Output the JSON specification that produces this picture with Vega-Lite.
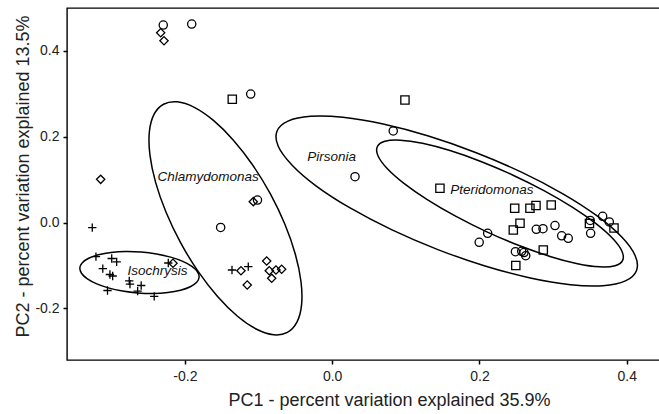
{
  "$schema": "https://vega.github.io/schema/vega-lite/v6.json",
  "autosize": {"type": "none"},
  "padding": {"left": 67, "top": 8, "right": 0, "bottom": 54},
  "width": 604,
  "height": 352,
  "config": {
    "font": "Liberation Sans",
    "view": {"stroke": "#000", "strokeWidth": 1.4},
    "axis": {"domain": false, "grid": false, "ticks": true, "tickColor": "#000", "tickWidth": 1.5, "tickSize": 4, "labelFontSize": 14, "labelColor": "#222", "titleFontSize": 18, "titleFontWeight": "normal", "titleColor": "#222", "labelFont": "Liberation Sans", "titleFont": "Liberation Sans"}
  },
  "datasets": {
    "points": [
      {"group": "C", "x": -0.2293, "y": 0.4603},
      {"group": "D", "x": -0.2328, "y": 0.4424},
      {"group": "D", "x": -0.2283, "y": 0.4238},
      {"group": "C", "x": -0.1907, "y": 0.4627},
      {"group": "S", "x": -0.1356, "y": 0.2873},
      {"group": "C", "x": -0.1106, "y": 0.2996},
      {"group": "D", "x": -0.3143, "y": 0.1009},
      {"group": "P", "x": -0.3257, "y": -0.0118},
      {"group": "C", "x": -0.1514, "y": -0.0113},
      {"group": "D", "x": -0.1071, "y": 0.0488},
      {"group": "C", "x": -0.1014, "y": 0.0527},
      {"group": "C", "x": 0.0310, "y": 0.1070},
      {"group": "C", "x": 0.0829, "y": 0.2135},
      {"group": "S", "x": 0.0988, "y": 0.2857},
      {"group": "P", "x": -0.3207, "y": -0.0794},
      {"group": "P", "x": -0.2993, "y": -0.0836},
      {"group": "P", "x": -0.2926, "y": -0.0912},
      {"group": "P", "x": -0.3114, "y": -0.1073},
      {"group": "P", "x": -0.3017, "y": -0.1208},
      {"group": "P", "x": -0.2980, "y": -0.1243},
      {"group": "P", "x": -0.2755, "y": -0.1355},
      {"group": "P", "x": -0.2745, "y": -0.1434},
      {"group": "P", "x": -0.2593, "y": -0.1465},
      {"group": "P", "x": -0.3050, "y": -0.1581},
      {"group": "P", "x": -0.2641, "y": -0.1597},
      {"group": "P", "x": -0.2416, "y": -0.1719},
      {"group": "P", "x": -0.2225, "y": -0.0940},
      {"group": "D", "x": -0.2161, "y": -0.0947},
      {"group": "P", "x": -0.1360, "y": -0.1103},
      {"group": "D", "x": -0.1238, "y": -0.1120},
      {"group": "P", "x": -0.1139, "y": -0.1027},
      {"group": "D", "x": -0.1153, "y": -0.1453},
      {"group": "D", "x": -0.0889, "y": -0.0894},
      {"group": "D", "x": -0.0854, "y": -0.1120},
      {"group": "D", "x": -0.0763, "y": -0.1103},
      {"group": "D", "x": -0.0686, "y": -0.1087},
      {"group": "D", "x": -0.0821, "y": -0.1297},
      {"group": "S", "x": 0.1463, "y": 0.0800},
      {"group": "S", "x": 0.2478, "y": 0.0334},
      {"group": "S", "x": 0.2685, "y": 0.0334},
      {"group": "S", "x": 0.2767, "y": 0.0399},
      {"group": "S", "x": 0.2974, "y": 0.0411},
      {"group": "S", "x": 0.2550, "y": -0.0016},
      {"group": "S", "x": 0.2459, "y": -0.0172},
      {"group": "C", "x": 0.2111, "y": -0.0249},
      {"group": "C", "x": 0.1996, "y": -0.0458},
      {"group": "C", "x": 0.2771, "y": -0.0155},
      {"group": "C", "x": 0.2862, "y": -0.0141},
      {"group": "C", "x": 0.3025, "y": -0.0067},
      {"group": "C", "x": 0.3116, "y": -0.0307},
      {"group": "C", "x": 0.3205, "y": -0.0365},
      {"group": "C", "x": 0.2488, "y": -0.0677},
      {"group": "C", "x": 0.2573, "y": -0.0668},
      {"group": "C", "x": 0.2604, "y": -0.0696},
      {"group": "C", "x": 0.2628, "y": -0.0770},
      {"group": "S", "x": 0.2866, "y": -0.0638},
      {"group": "S", "x": 0.2493, "y": -0.0999},
      {"group": "S", "x": 0.3493, "y": -0.0020},
      {"group": "C", "x": 0.3503, "y": 0.0050},
      {"group": "C", "x": 0.3509, "y": -0.0249},
      {"group": "C", "x": 0.3672, "y": 0.0147},
      {"group": "C", "x": 0.3762, "y": 0.0015},
      {"group": "S", "x": 0.3826, "y": -0.0125}
    ],
    "ellipses": [
      {"e": "Iso", "i": 0, "x": -0.18068, "y": -0.12711},
      {"e": "Iso", "i": 1, "x": -0.18401, "y": -0.13905},
      {"e": "Iso", "i": 2, "x": -0.19262, "y": -0.14945},
      {"e": "Iso", "i": 3, "x": -0.20592, "y": -0.15757},
      {"e": "Iso", "i": 4, "x": -0.22304, "y": -0.16287},
      {"e": "Iso", "i": 5, "x": -0.24278, "y": -0.16499},
      {"e": "Iso", "i": 6, "x": -0.26379, "y": -0.16378},
      {"e": "Iso", "i": 7, "x": -0.28466, "y": -0.15933},
      {"e": "Iso", "i": 8, "x": -0.30397, "y": -0.15193},
      {"e": "Iso", "i": 9, "x": -0.32038, "y": -0.14211},
      {"e": "Iso", "i": 10, "x": -0.33279, "y": -0.13051},
      {"e": "Iso", "i": 11, "x": -0.34035, "y": -0.11793},
      {"e": "Iso", "i": 12, "x": -0.34254, "y": -0.10523},
      {"e": "Iso", "i": 13, "x": -0.33921, "y": -0.09329},
      {"e": "Iso", "i": 14, "x": -0.33060, "y": -0.08289},
      {"e": "Iso", "i": 15, "x": -0.31730, "y": -0.07477},
      {"e": "Iso", "i": 16, "x": -0.30019, "y": -0.06947},
      {"e": "Iso", "i": 17, "x": -0.28044, "y": -0.06735},
      {"e": "Iso", "i": 18, "x": -0.25943, "y": -0.06856},
      {"e": "Iso", "i": 19, "x": -0.23856, "y": -0.07301},
      {"e": "Iso", "i": 20, "x": -0.21926, "y": -0.08041},
      {"e": "Iso", "i": 21, "x": -0.20284, "y": -0.09023},
      {"e": "Iso", "i": 22, "x": -0.19043, "y": -0.10183},
      {"e": "Iso", "i": 23, "x": -0.18287, "y": -0.11441},
      {"e": "Chl", "i": 0, "x": -0.06077, "y": -0.25564},
      {"e": "Chl", "i": 1, "x": -0.07942, "y": -0.26128},
      {"e": "Chl", "i": 2, "x": -0.10253, "y": -0.24844},
      {"e": "Chl", "i": 3, "x": -0.12851, "y": -0.21798},
      {"e": "Chl", "i": 4, "x": -0.15561, "y": -0.17198},
      {"e": "Chl", "i": 5, "x": -0.18199, "y": -0.11355},
      {"e": "Chl", "i": 6, "x": -0.20583, "y": -0.04672},
      {"e": "Chl", "i": 7, "x": -0.22552, "y": 0.02399},
      {"e": "Chl", "i": 8, "x": -0.23971, "y": 0.09376},
      {"e": "Chl", "i": 9, "x": -0.24743, "y": 0.15782},
      {"e": "Chl", "i": 10, "x": -0.24817, "y": 0.21180},
      {"e": "Chl", "i": 11, "x": -0.24187, "y": 0.25206},
      {"e": "Chl", "i": 12, "x": -0.22895, "y": 0.27582},
      {"e": "Chl", "i": 13, "x": -0.21030, "y": 0.28146},
      {"e": "Chl", "i": 14, "x": -0.18719, "y": 0.26862},
      {"e": "Chl", "i": 15, "x": -0.16121, "y": 0.23816},
      {"e": "Chl", "i": 16, "x": -0.13411, "y": 0.19216},
      {"e": "Chl", "i": 17, "x": -0.10773, "y": 0.13373},
      {"e": "Chl", "i": 18, "x": -0.08389, "y": 0.06690},
      {"e": "Chl", "i": 19, "x": -0.06420, "y": -0.00381},
      {"e": "Chl", "i": 20, "x": -0.05001, "y": -0.07358},
      {"e": "Chl", "i": 21, "x": -0.04229, "y": -0.13764},
      {"e": "Chl", "i": 22, "x": -0.04155, "y": -0.19162},
      {"e": "Chl", "i": 23, "x": -0.04785, "y": -0.23188},
      {"e": "Pir", "i": 0, "x": 0.41310, "y": -0.11202},
      {"e": "Pir", "i": 1, "x": 0.39816, "y": -0.13576},
      {"e": "Pir", "i": 2, "x": 0.36762, "y": -0.14684},
      {"e": "Pir", "i": 3, "x": 0.32355, "y": -0.14446},
      {"e": "Pir", "i": 4, "x": 0.26895, "y": -0.12881},
      {"e": "Pir", "i": 5, "x": 0.20753, "y": -0.10093},
      {"e": "Pir", "i": 6, "x": 0.14351, "y": -0.06276},
      {"e": "Pir", "i": 7, "x": 0.08123, "y": -0.01687},
      {"e": "Pir", "i": 8, "x": 0.02492, "y": 0.03361},
      {"e": "Pir", "i": 9, "x": -0.02156, "y": 0.08522},
      {"e": "Pir", "i": 10, "x": -0.05465, "y": 0.13446},
      {"e": "Pir", "i": 11, "x": -0.07324, "y": 0.17798},
      {"e": "Pir", "i": 12, "x": -0.07494, "y": 0.21280},
      {"e": "Pir", "i": 13, "x": -0.06000, "y": 0.23654},
      {"e": "Pir", "i": 14, "x": -0.02946, "y": 0.24762},
      {"e": "Pir", "i": 15, "x": 0.01462, "y": 0.24524},
      {"e": "Pir", "i": 16, "x": 0.06922, "y": 0.22959},
      {"e": "Pir", "i": 17, "x": 0.13063, "y": 0.20171},
      {"e": "Pir", "i": 18, "x": 0.19466, "y": 0.16354},
      {"e": "Pir", "i": 19, "x": 0.25693, "y": 0.11765},
      {"e": "Pir", "i": 20, "x": 0.31325, "y": 0.06717},
      {"e": "Pir", "i": 21, "x": 0.35972, "y": 0.01556},
      {"e": "Pir", "i": 22, "x": 0.39320, "y": -0.03368},
      {"e": "Pir", "i": 23, "x": 0.41141, "y": -0.07720},
      {"e": "Pte", "i": 0, "x": 0.39435, "y": -0.08778},
      {"e": "Pte", "i": 1, "x": 0.38406, "y": -0.10034},
      {"e": "Pte", "i": 2, "x": 0.36313, "y": -0.10303},
      {"e": "Pte", "i": 3, "x": 0.33298, "y": -0.09565},
      {"e": "Pte", "i": 4, "x": 0.29566, "y": -0.07872},
      {"e": "Pte", "i": 5, "x": 0.25371, "y": -0.05339},
      {"e": "Pte", "i": 6, "x": 0.21000, "y": -0.02139},
      {"e": "Pte", "i": 7, "x": 0.16751, "y": 0.01511},
      {"e": "Pte", "i": 8, "x": 0.12911, "y": 0.05362},
      {"e": "Pte", "i": 9, "x": 0.09745, "y": 0.09151},
      {"e": "Pte", "i": 10, "x": 0.07468, "y": 0.12619},
      {"e": "Pte", "i": 11, "x": 0.06233, "y": 0.15532},
      {"e": "Pte", "i": 12, "x": 0.06126, "y": 0.17690},
      {"e": "Pte", "i": 13, "x": 0.07154, "y": 0.18946},
      {"e": "Pte", "i": 14, "x": 0.09247, "y": 0.19215},
      {"e": "Pte", "i": 15, "x": 0.12262, "y": 0.18477},
      {"e": "Pte", "i": 16, "x": 0.15994, "y": 0.16784},
      {"e": "Pte", "i": 17, "x": 0.20189, "y": 0.14251},
      {"e": "Pte", "i": 18, "x": 0.24560, "y": 0.11051},
      {"e": "Pte", "i": 19, "x": 0.28810, "y": 0.07401},
      {"e": "Pte", "i": 20, "x": 0.32649, "y": 0.03550},
      {"e": "Pte", "i": 21, "x": 0.35816, "y": -0.00239},
      {"e": "Pte", "i": 22, "x": 0.38093, "y": -0.03707},
      {"e": "Pte", "i": 23, "x": 0.39328, "y": -0.06620}
    ],
    "labels": [
      {"label": "Chlamydomonas", "x": -0.1683, "y": 0.1070},
      {"label": "Pirsonia", "x": -0.0007, "y": 0.1536},
      {"label": "Pteridomonas", "x": 0.2169, "y": 0.0760},
      {"label": "Isochrysis", "x": -0.2372, "y": -0.1120}
    ]
  },
  "encoding": {
    "x": {"field": "x", "type": "quantitative", "scale": {"domain": [-0.36, 0.46], "nice": false, "zero": false},
      "axis": {"values": [-0.2, 0, 0.2, 0.4], "format": ".1f", "labelExpr": "replace(datum.label, '\u2212', '-')", "labelPadding": 5, "title": "PC1 - percent variation explained 35.9%", "titleX": 322, "titleY": 40, "titleBaseline": "middle"}},
    "y": {"field": "y", "type": "quantitative", "scale": {"domain": [-0.32, 0.5], "nice": false, "zero": false},
      "axis": {"values": [-0.2, 0, 0.2, 0.4], "format": ".1f", "labelExpr": "replace(datum.label, '\u2212', '-')", "labelPadding": 4, "title": "PC2 - percent variation explained 13.5%", "titleX": -44, "titleY": 168, "titleBaseline": "middle"}}
  },
  "layer": [
    {
      "data": {"name": "ellipses"},
      "mark": {"type": "line", "interpolate": "cardinal-closed", "stroke": "#000", "strokeWidth": 1.5, "clip": true},
      "encoding": {"detail": {"field": "e"}, "order": {"field": "i", "type": "quantitative"}}
    },
    {
      "data": {"name": "points"},
      "mark": {"type": "point", "filled": false, "stroke": "#000", "strokeWidth": 1.3, "opacity": 1},
      "encoding": {
        "shape": {"field": "group", "type": "nominal", "scale": {"domain": ["C", "S", "D", "P"], "range": ["circle", "square", "diamond", "M-1,0L1,0M0,-1L0,1"]}, "legend": null},
        "size": {"field": "group", "type": "nominal", "scale": {"domain": ["C", "S", "D", "P"], "range": [68, 69, 80, 81]}, "legend": null}
      }
    },
    {
      "data": {"name": "labels"},
      "mark": {"type": "text", "fontStyle": "italic", "fontSize": 13.5, "color": "#111", "align": "center", "baseline": "middle"},
      "encoding": {"text": {"field": "label"}}
    }
  ]
}
